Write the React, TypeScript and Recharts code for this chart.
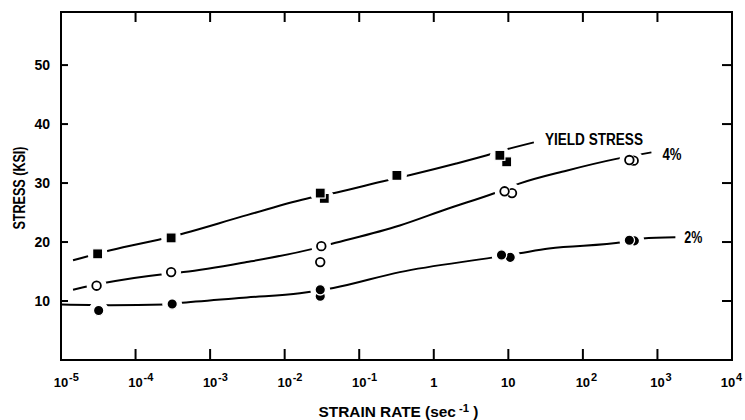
import React from "react";
import { ComposedChart, Line, Scatter, XAxis, YAxis } from "recharts";

// axis ticks
const rateTicks = [1e-5, 1e-4, 1e-3, 1e-2, 1e-1, 1, 10, 1e2, 1e3, 1e4];
const rateTickBase = ["10", "10", "10", "10", "10", "1", "10", "10", "10", "10"];
const rateTickExp = ["-5", "-4", "-3", "-2", "-1", "", "", "2", "3", "4"];
const stressTicks = [10, 20, 30, 40, 50];

// test points (strain rate, sec-1 / stress, ksi)
const yieldRate = [3.1e-5, 3.0e-4, 0.03, 0.034, 0.32, 7.7, 9.5];
const yieldStress = [18.0, 20.7, 28.3, 27.4, 31.3, 34.7, 33.6];

const fourRate = [3.0e-5, 3.0e-4, 0.031, 0.03, 8.9, 11.2, 420, 480];
const fourStress = [12.6, 14.9, 19.3, 16.6, 28.6, 28.3, 33.9, 33.8];

const twoRate = [3.2e-5, 3.1e-4, 0.03, 0.03, 8.1, 10.6, 420, 490];
const twoStress = [8.4, 9.5, 11.9, 10.8, 17.8, 17.4, 20.3, 20.2];

// faired curves
const yieldCurveRate = [1.45e-5, 4.6e-5, 3e-4, 3.2e-3, 0.022, 0.05, 0.21, 0.5, 2, 6.2, 10, 22];
const yieldCurveStress = [16.9, 18.6, 20.9, 24.6, 27.5, 28.4, 30.3, 31.4, 33.3, 35.0, 35.8, 36.9];

const fourCurveRate = [1.45e-5, 3.6e-5, 2.5e-4, 4.4e-4, 3.1e-3, 0.023, 0.043, 0.35, 1.5, 6.9, 14, 60, 280, 830];
const fourCurveStress = [11.9, 13.0, 14.6, 14.9, 16.6, 18.8, 19.7, 22.8, 25.6, 28.4, 29.9, 32.1, 34.1, 35.2];

const twoCurveRate = [1.02e-5, 4.6e-5, 2.5e-4, 4.2e-4, 3.1e-3, 0.016, 0.045, 0.35, 6.3, 14, 35, 350, 630, 1740];
const twoCurveStress = [9.4, 9.3, 9.4, 9.7, 10.6, 11.3, 12.2, 14.9, 17.4, 18.1, 18.9, 20.0, 20.6, 20.8];

// curve labels
const labelText = ["YIELD STRESS", "4%", "2%"];
const labelRate = [31, 1170, 2290];
const labelStress = [37.4, 35.0, 20.8];

const zip = (xs: number[], ys: number[]) => xs.map((x, i) => ({ x, y: ys[i] }));

const FONT = "'Liberation Sans', Arial, sans-serif";
const AXIS = { stroke: "#000", strokeWidth: 2, strokeLinecap: "square" as const };

function tickIndex(v: number) {
  return rateTicks.findIndex((t) => Math.abs(Math.log10(t) - Math.log10(v)) < 1e-6);
}

function BottomTick(props: any) {
  const { x, y, payload } = props;
  const i = tickIndex(payload.value);
  const exp = rateTickExp[i];
  const last = i === rateTicks.length - 1;
  const bx = last ? x - 4 : x;
  return (
    <g>
      <line x1={x} y1={y} x2={x} y2={y - 11} stroke="#000" strokeWidth={2} />
      <text x={bx} y={y + 27} textAnchor="middle" fontFamily={FONT} fontWeight="bold" fontSize={13} fill="#000">
        {rateTickBase[i]}
      </text>
      {exp && (
        <text x={bx + 8} y={y + 21} textAnchor="start" fontFamily={FONT} fontWeight="bold" fontSize={11} fill="#000">
          {exp}
        </text>
      )}
    </g>
  );
}

function TopTick(props: any) {
  const { x, y } = props;
  return <line x1={x} y1={y} x2={x} y2={y + 10} stroke="#000" strokeWidth={2} />;
}

function LeftTick(props: any) {
  const { x, y, payload } = props;
  return (
    <g>
      <line x1={x} y1={y} x2={x + 7} y2={y} stroke="#000" strokeWidth={2} />
      <text x={x - 11} y={y + 5} textAnchor="end" fontFamily={FONT} fontWeight="bold" fontSize={14} fill="#000">
        {payload.value}
      </text>
    </g>
  );
}

function RightTick(props: any) {
  const { x, y } = props;
  return <line x1={x} y1={y} x2={x - 10} y2={y} stroke="#000" strokeWidth={2} />;
}

// white disc that breaks the faired line around each test point
function Halo(props: any) {
  const { cx, cy } = props;
  return <circle cx={cx} cy={cy} r={10} fill="#fff" stroke="none" />;
}

function Square(props: any) {
  const { cx, cy } = props;
  return <rect x={cx - 5} y={cy - 5} width={10} height={10} fill="#000" stroke="#fff" strokeWidth={1.2} />;
}

function OpenDot(props: any) {
  const { cx, cy } = props;
  return (
    <g>
      <circle cx={cx} cy={cy} r={5.6} fill="#fff" />
      <circle cx={cx} cy={cy} r={4.3} fill="#fff" stroke="#000" strokeWidth={1.8} />
    </g>
  );
}

function FilledDot(props: any) {
  const { cx, cy } = props;
  return <circle cx={cx} cy={cy} r={5.2} fill="#000" stroke="#fff" strokeWidth={1.3} />;
}

const labelWidth: Record<string, number> = { "YIELD STRESS": 98, "4%": 19, "2%": 18 };

function CurveLabel(props: any) {
  const { cx, cy, payload } = props;
  return (
    <text
      x={cx}
      y={cy + 6}
      textAnchor="start"
      textLength={labelWidth[payload.text]}
      lengthAdjust="spacingAndGlyphs"
      fontFamily={FONT}
      fontWeight="bold"
      fontSize={16}
      fill="#000"
    >
      {payload.text}
    </text>
  );
}

const XTitle = (props: any) => {
  const { x, width, y } = props.viewBox;
  const cx = x + width / 2 + 2;
  return (
    <text
      x={cx - 80}
      y={y + 57}
      textAnchor="start"
      textLength={160}
      lengthAdjust="spacingAndGlyphs"
      fontFamily={FONT}
      fontWeight="bold"
      fontSize={15}
      fill="#000"
    >
      STRAIN RATE (sec
      <tspan dy={-5} fontSize={11}> -1</tspan>
      <tspan dy={5}> )</tspan>
    </text>
  );
};

const YTitle = (props: any) => {
  const { x, y, height } = props.viewBox;
  const cx = x + 19;
  const cy = y + height / 2 + 2;
  return (
    <text
      x={cx}
      y={cy}
      transform={`rotate(-90 ${cx} ${cy})`}
      textAnchor="middle"
      dominantBaseline="central"
      textLength={83}
      lengthAdjust="spacingAndGlyphs"
      fontFamily={FONT}
      fontWeight="bold"
      fontSize={16}
      fill="#000"
    >
      STRESS (KSI)
    </text>
  );
};

export default function App() {
  const yieldPts = zip(yieldRate, yieldStress);
  const fourPts = zip(fourRate, fourStress);
  const twoPts = zip(twoRate, twoStress);
  const labels = labelText.map((text, i) => ({ x: labelRate[i], y: labelStress[i], text }));

  const curve = { type: "monotone" as const, dataKey: "y", stroke: "#000", strokeWidth: 2, dot: false, activeDot: false, isAnimationActive: false };

  return (
    <div style={{ position: "absolute", left: 0, top: 0, width: 745, height: 420, background: "#fff" }}>
      <ComposedChart width={745} height={420} margin={{ top: 11, right: 12, bottom: 0, left: 0 }}>
        <XAxis
          type="number"
          dataKey="x"
          scale="log"
          domain={[1e-5, 1e4]}
          ticks={rateTicks}
          interval={0}
          allowDataOverflow
          height={60}
          tickSize={0}
          tickMargin={0}
          tickLine={false}
          axisLine={AXIS}
          tick={<BottomTick />}
          label={{ content: XTitle }}
        />
        <XAxis
          xAxisId="top"
          orientation="top"
          type="number"
          dataKey="x"
          scale="log"
          domain={[1e-5, 1e4]}
          ticks={rateTicks.slice(1, -1)}
          interval={0}
          allowDataOverflow
          height={1}
          tickSize={0}
          tickMargin={0}
          tickLine={false}
          axisLine={AXIS}
          tick={<TopTick />}
        />
        <YAxis
          type="number"
          dataKey="y"
          domain={[0, 59]}
          ticks={stressTicks}
          interval={0}
          allowDataOverflow
          width={61}
          tickSize={0}
          tickMargin={0}
          tickLine={false}
          axisLine={AXIS}
          tick={<LeftTick />}
          label={{ content: YTitle }}
        />
        <YAxis
          yAxisId="right"
          orientation="right"
          type="number"
          dataKey="y"
          domain={[0, 59]}
          ticks={stressTicks}
          interval={0}
          allowDataOverflow
          width={1}
          tickSize={0}
          tickMargin={0}
          tickLine={false}
          axisLine={AXIS}
          tick={<RightTick />}
        />

        <Line data={zip(yieldCurveRate, yieldCurveStress)} {...curve} />
        <Line data={zip(fourCurveRate, fourCurveStress)} {...curve} />
        <Line data={zip(twoCurveRate, twoCurveStress)} {...curve} />

        <Scatter data={yieldPts} shape={Halo} isAnimationActive={false} />
        <Scatter data={fourPts} shape={Halo} isAnimationActive={false} />
        <Scatter data={twoPts} shape={Halo} isAnimationActive={false} />

        <Scatter data={[...yieldPts].reverse()} shape={Square} isAnimationActive={false} />
        <Scatter data={[...fourPts].reverse()} shape={OpenDot} isAnimationActive={false} />
        <Scatter data={[...twoPts].reverse()} shape={FilledDot} isAnimationActive={false} />

        <Scatter data={labels} xAxisId="top" yAxisId="right" shape={CurveLabel} isAnimationActive={false} />
      </ComposedChart>
    </div>
  );
}
